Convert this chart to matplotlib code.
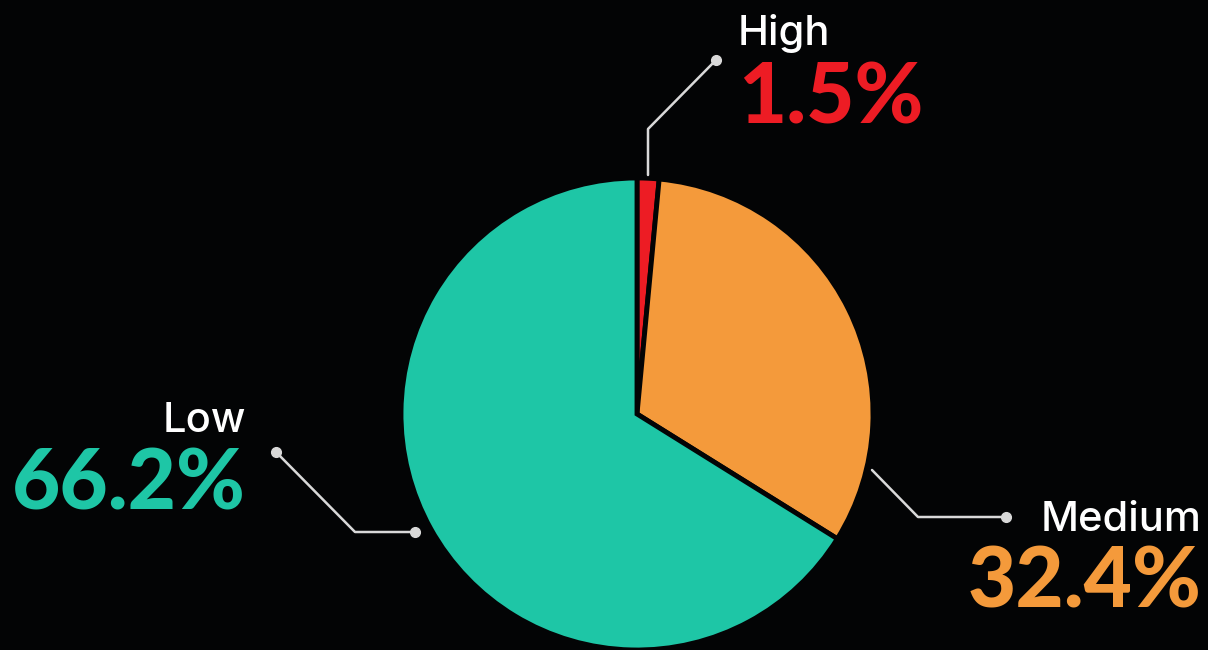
import matplotlib
matplotlib.use('Agg')
from matplotlib import pyplot as plt

# risk split
labels = ['High', 'Medium', 'Low']
shares = [1.5, 32.4, 66.2]
colors = ['#ED1C24', '#F49A3B', '#1EC6A6']

bg = '#030405'
line_col = '#D9D9D9'
plt.rcParams['font.family'] = ['Inter', 'DejaVu Sans']

fig = plt.figure(figsize=(12.08, 6.5), dpi=100, facecolor=bg)
ax = fig.add_axes([0, 0, 1, 1])
ax.set_facecolor(bg)
ax.set_xlim(0, 1208)
ax.set_ylim(0, 650)
ax.set_aspect('equal')
ax.axis('off')

ax.pie(shares, colors=colors, startangle=90, counterclock=False,
       center=(637, 236), radius=236, normalize=True,
       wedgeprops=dict(edgecolor=bg, linewidth=3.5))
ax.set_xlim(0, 1208)
ax.set_ylim(0, 650)

# leader lines (pixel layout, y measured from bottom)
leaders = {
    'High': [(648, 475), (648, 521), (716, 590)],
    'Medium': [(872, 180), (918, 133), (1006, 133)],
    'Low': [(415, 118), (355, 118), (276, 198)],
}
for name, pts in leaders.items():
    xs, ys = zip(*pts)
    ax.plot(xs, ys, color=line_col, lw=1.8, solid_capstyle='round', zorder=5)
    ax.plot(xs[-1], ys[-1], 'o', color=line_col, ms=7, zorder=6)
    if name == 'Low':
        ax.plot(xs[0], ys[0], 'o', color=line_col, ms=7, zorder=6)

# label text: name above, share below
text_pos = {
    'High': (738, 605, 527, 'left'),
    'Medium': (1201, 119, 43, 'right'),
    'Low': (246, 218, 140, 'right'),
}
for name, val, col in zip(labels, shares, colors):
    x, y_name, y_val, ha = text_pos[name]
    ax.text(x, y_name, name, color='white', fontsize=30, ha=ha,
            va='baseline', fontweight='medium')
    ax.text(x, y_val, f'{val}%', color=col, fontsize=60, ha=ha,
            va='baseline', fontweight='black', family=['Lato', 'DejaVu Sans'])

fig.savefig('out.png', dpi=100, facecolor=bg)
plt.close('all')
